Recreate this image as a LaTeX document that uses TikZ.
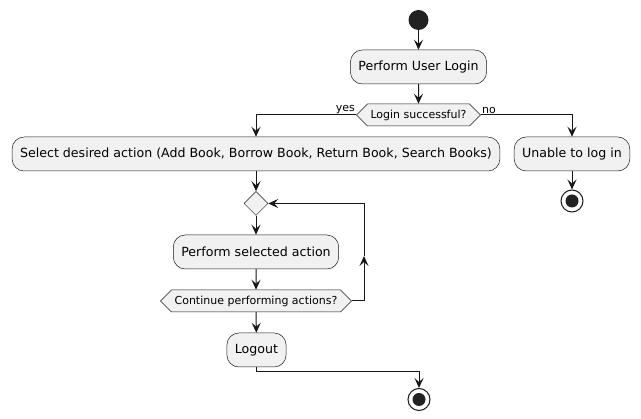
\documentclass[tikz,border=0pt]{standalone}
\usepackage{fontspec}
\setmainfont{DejaVu Sans}
\usetikzlibrary{shapes.geometric,shapes.symbols,arrows.meta}
\definecolor{boxfill}{HTML}{F1F1F1}
\definecolor{ink}{HTML}{181818}
\definecolor{dot}{HTML}{222222}
\begin{document}
\begin{tikzpicture}[x=1pt,y=-1pt,
  act/.style={draw=ink, line width=0.5pt, fill=boxfill, rounded corners=12pt,
    minimum height=34pt, inner xsep=8pt, inner ysep=0pt, font=\fontsize{12.6}{14}\selectfont},
  hexa/.style={signal, signal to=west and east, signal pointer angle=90, draw=ink, line width=0.5pt,
    fill=boxfill, minimum height=22pt, inner xsep=3pt, inner ysep=0pt, font=\fontsize{11}{13}\selectfont},
  merge/.style={diamond, draw=ink, line width=0.5pt, fill=boxfill, minimum width=24pt, minimum height=24pt, inner sep=0pt},
  startc/.style={circle, fill=dot, minimum size=20pt, inner sep=0pt},
  stopc/.style={circle, draw=ink, line width=1pt, fill=white, minimum size=22pt, inner sep=0pt,
    path picture={\fill[dot] (path picture bounding box.center) circle (6.5pt);}},
  arr/.style={draw=ink, line width=1pt, -{Stealth[length=10pt,width=9pt,inset=4pt]}},
  lbl/.style={font=\fontsize{11}{13}\selectfont, inner sep=1pt}
]
\fill[white] (0,0) rectangle (641,419);
\useasboundingbox (0,0) rectangle (641,419);

\node[startc] (start) at (418.5,20) {};
\node[act] (login) at (418.5,67) {Perform User Login};
\node[hexa] (d1) at (418.5,115) {Login successful?};
\node[act] (select) at (256,154) {Select desired action (Add Book, Borrow Book, Return Book, Search Books)};
\node[act] (unable) at (572,154) {Unable to log in};
\node[stopc] (stop1) at (572,201) {};
\node[merge] (mg) at (256,203.5) {};
\node[act] (perform) at (256,252) {Perform selected action};
\node[hexa] (d2) at (256,301) {Continue performing actions?};
\node[act] (logout) at (256.5,350) {Logout};
\node[stopc] (stop2) at (419,399.5) {};

\node[lbl, anchor=south east] at (d1.west) {yes};
\node[lbl, anchor=south west] at (d1.east) {no};

\coordinate (lp1) at (364,301);
\coordinate (lpm) at (364,256);
\coordinate (bend) at (256.5,372);

\draw[arr] (start) -- (login);
\draw[arr] (login) -- (d1);
\draw[arr] (d1.west) -| (select.north);
\draw[arr] (d1.east) -| (unable.north);
\draw[arr] (unable) -- (stop1);
\draw[arr] (select.south -| mg.north) -- (mg);
\draw[arr] (mg) -- (perform);
\draw[arr] (perform) -- (d2);
\draw[arr] (d2.east) -- (lp1) -- (lpm);
\draw[arr] (lpm) |- (mg.east);
\draw[arr] (d2) -- (logout);
\draw[arr] (logout.south) -- (bend) -| (stop2.north);
\end{tikzpicture}
\end{document}
